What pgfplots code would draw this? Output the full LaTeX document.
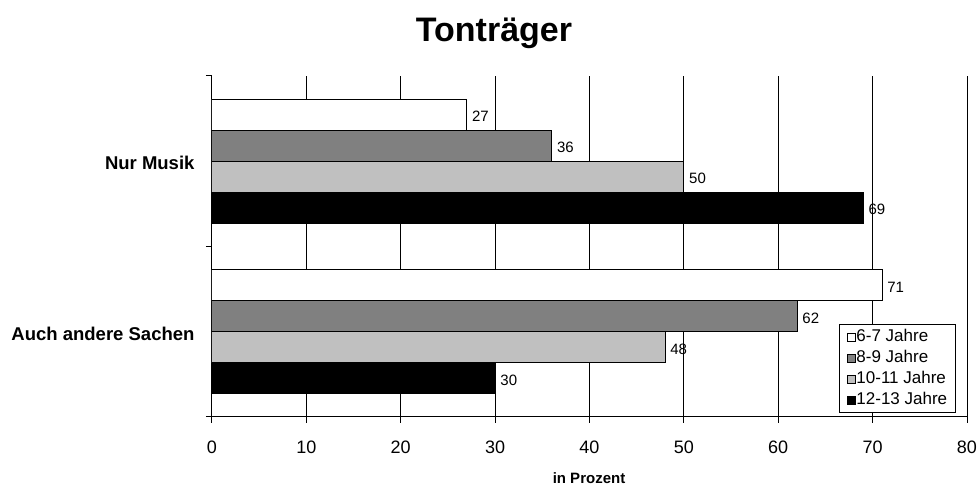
\documentclass[border=0pt]{standalone}
\usepackage{pgfplots}
\pgfplotsset{compat=1.18}
\usepackage{fontspec}
\setmainfont{Liberation Sans}
\definecolor{cgray}{RGB}{128,128,128}
\definecolor{csilver}{RGB}{192,192,192}
\begin{document}
\begin{tikzpicture}[x=1pt,y=1pt]
\path[use as bounding box] (0,0) rectangle (980,486);
\begin{axis}[
  at={(212pt,69pt)}, anchor=south west,
  scale only axis, width=755pt, height=341pt,
  xbar, bar width=0.182,
  xmin=0, xmax=80, ymin=-0.5, ymax=1.5,
  xtick={0,10,...,80},
  ytick={0,1},
  yticklabels={Auch andere Sachen, Nur Musik},
  minor ytick={-0.5,0.5,1.5},
  axis x line=bottom, axis y line=left,
  axis line style={-, black, line width=1pt},
  every tick/.style={black, line width=1pt},
  major tick length=6pt, minor tick length=6pt,
  tick align=outside,
  major y tick style={draw=none},
  xmajorgrids,
  major grid style={black, line width=1pt},
  /pgf/number format/assume math mode=true,
  x tick label style={font=\fontsize{18}{20}\selectfont, yshift=-14pt},
  y tick label style={font=\bfseries\fontsize{18.5}{20}\selectfont, xshift=-8pt, yshift=-2pt},
  nodes near coords,
  every node near coord/.append style={font=\fontsize{15}{17}\selectfont, anchor=west, xshift=1.5pt, yshift=-2pt, black},
  legend style={at={(0.985,0.012)}, anchor=south east, draw=black, line width=1pt,
    font=\fontsize{17}{19}\selectfont, row sep=0pt, inner xsep=7pt, inner ysep=2pt,
    nodes={inner xsep=1pt, inner ysep=1.5pt, text height=13.5pt, text depth=4.5pt}},
  legend cell align=left,
  legend image code/.code={\draw[#1, draw=black, line width=0.8pt] (0pt,-4pt) rectangle (8pt,4pt);},
]
\addplot[fill=white, draw=black, line width=1pt, bar shift=0.273] coordinates {(27,1) (71,0)};
\addplot[fill=cgray, draw=black, line width=1pt, bar shift=0.091] coordinates {(36,1) (62,0)};
\addplot[fill=csilver, draw=black, line width=1pt, bar shift=-0.091] coordinates {(50,1) (48,0)};
\addplot[fill=black, draw=black, line width=1pt, bar shift=-0.273] coordinates {(69,1) (30,0)};
\legend{6-7 Jahre, 8-9 Jahre, 10-11 Jahre, 12-13 Jahre}
\end{axis}
\node[anchor=base, font=\bfseries\fontsize{34}{37}\selectfont] at (494,444) {Tonträger};
\node[anchor=base, font=\bfseries\fontsize{15}{17}\selectfont, inner sep=0pt] at (589,2.5) {in Prozent};
\end{tikzpicture}
\end{document}
